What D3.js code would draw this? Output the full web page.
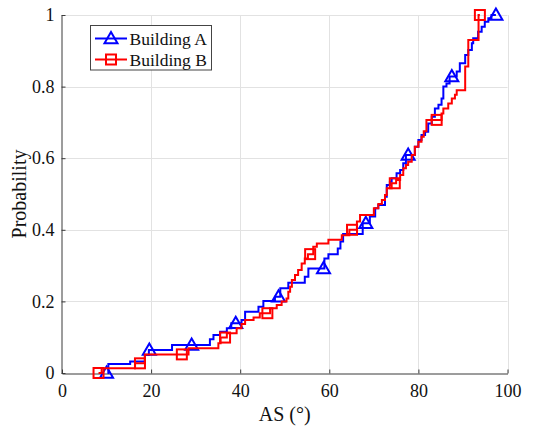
<!DOCTYPE html>
<html>
<head>
<meta charset="utf-8">
<script src="https://cdn.jsdelivr.net/npm/d3@7"></script>
<style>
  html, body { margin: 0; padding: 0; background: #fff; }
  svg { display: block; }
  svg text { font-family: "Liberation Serif", "DejaVu Serif", serif; }
</style>
</head>
<body>
<svg id="chart" width="541" height="429"></svg>
<script>
// Empirical CDF of AS for two buildings: step positions (AS, degrees) and
// cumulative probability reached at each step.
const stepAS_A = [10.2, 10.4, 15.3, 18.6, 19.5, 24.7, 33.2, 34.0, 35.5, 37.0, 38.0, 40.3, 41.1, 44.1, 45.2,
  47.8, 49.0, 50.8, 54.5, 55.3, 58.9, 59.8, 61.9, 62.5, 63.1, 67.5, 69.1, 70.3, 71.0, 72.5, 72.9,
  73.6, 74.0, 75.1, 75.9, 76.6, 77.2, 79.2, 80.0, 80.7, 81.5, 82.2, 83.0, 83.7, 84.5, 85.2, 85.6,
  86.3, 87.0, 88.6, 89.3, 90.5, 91.2, 92.0, 92.3, 93.4, 94.2, 94.9, 95.7, 96.4, 97.4];
const stepP_A = [0, 0.025, 0.032, 0.050, 0.064, 0.078, 0.094, 0.106, 0.115, 0.125, 0.139, 0.148, 0.171, 0.185, 0.201,
  0.213, 0.237, 0.252, 0.269, 0.292, 0.320, 0.332, 0.348, 0.367, 0.388, 0.418, 0.437, 0.460, 0.469, 0.492, 0.525,
  0.534, 0.544, 0.558, 0.567, 0.586, 0.609, 0.632, 0.651, 0.665, 0.674, 0.697, 0.716, 0.739, 0.749, 0.767, 0.800,
  0.809, 0.828, 0.842, 0.865, 0.888, 0.902, 0.921, 0.935, 0.953, 0.967, 0.981, 0.991, 1.0, 1.0];

const stepAS_B = [8.2, 8.9, 16.4, 18.6, 28.4, 35.1, 35.6, 37.0, 39.2, 40.3, 41.1, 43.0, 44.4, 46.7, 48.2,
  49.3, 50.4, 50.8, 51.2, 51.6, 52.3, 53.0, 53.8, 54.5, 55.2, 56.4, 57.2, 59.8, 62.8, 64.5, 66.2,
  66.9, 70.0, 71.0, 71.8, 72.5, 72.9, 74.0, 75.0, 75.9, 76.6, 77.2, 77.7, 78.5, 79.2, 80.0, 80.7,
  81.2, 81.8, 85.2, 85.6, 86.7, 87.5, 88.2, 88.6, 90.5, 91.2, 93.5, 93.8];
const stepP_B = [0, 0.013, 0.027, 0.052, 0.069, 0.083, 0.099, 0.111, 0.125, 0.137, 0.148, 0.155, 0.167, 0.181, 0.190,
  0.200, 0.208, 0.227, 0.241, 0.260, 0.274, 0.288, 0.306, 0.320, 0.332, 0.353, 0.362, 0.372, 0.385, 0.400, 0.423,
  0.441, 0.460, 0.472, 0.483, 0.497, 0.516, 0.530, 0.539, 0.553, 0.572, 0.581, 0.590, 0.609, 0.632, 0.646, 0.660,
  0.675, 0.707, 0.725, 0.739, 0.753, 0.767, 0.777, 0.790, 0.856, 0.930, 1.0, 1.0];

// AS values where the marker symbols are placed
const markerAS_A = [10.0, 19.6, 29.1, 39.0, 48.6, 58.7, 68.2, 77.7, 87.5, 97.4];
const markerAS_B = [8.2, 17.5, 26.9, 36.6, 46.1, 55.7, 65.1, 74.7, 84.1, 93.8];

const seriesNames = ["Building A", "Building B"];
const xTicks = [0, 20, 40, 60, 80, 100];
const yTicks = [0, 0.2, 0.4, 0.6, 0.8, 1];
const yTickLabels = ["0", "0.2", "0.4", "0.6", "0.8", "1"];

const serif = "'Liberation Serif', 'DejaVu Serif', serif";
const svg = d3.select("#chart");
const x = d3.scaleLinear().domain([0, 100]).range([62, 507.5]);
const y = d3.scaleLinear().domain([0, 1]).range([373, 15]);

// grid
const grid = svg.append("g").attr("stroke", "#e2e2e2").attr("stroke-width", 1);
grid.selectAll("line.gx").data(xTicks.slice(1)).join("line")
  .attr("x1", d => Math.round(x(d)) + 0.5).attr("x2", d => Math.round(x(d)) + 0.5)
  .attr("y1", y(0)).attr("y2", y(1));
grid.selectAll("line.gy").data(yTicks.slice(1)).join("line")
  .attr("y1", d => Math.round(y(d)) + 0.5).attr("y2", d => Math.round(y(d)) + 0.5)
  .attr("x1", x(0)).attr("x2", x(100));

// axes
const axisColor = "#3a3a3a";
const xAxis = svg.append("g").attr("transform", "translate(0,373.5)")
  .call(d3.axisBottom(x).tickValues(xTicks).tickFormat(d3.format("d"))
    .tickSizeInner(-4).tickSizeOuter(0).tickPadding(10.5));
const yAxis = svg.append("g").attr("transform", "translate(61.5,0)")
  .call(d3.axisLeft(y).tickValues(yTicks).tickFormat((d, i) => yTickLabels[i])
    .tickSizeInner(-4).tickSizeOuter(0).tickPadding(7));
[xAxis, yAxis].forEach(g => {
  g.attr("font-family", serif).attr("font-size", 18);
  g.select(".domain").attr("stroke", axisColor);
  g.selectAll(".tick line").attr("stroke", axisColor);
  g.selectAll(".tick text").attr("fill", "#111")
    .style("font-family", serif).style("font-size", "18px");
});

// axis titles
svg.append("text").attr("x", 284.75).attr("y", 421).attr("text-anchor", "middle")
  .style("font-family", serif).style("font-size", "20px").attr("fill", "#111").text("AS (°)");
svg.append("text").attr("transform", "translate(26,194) rotate(-90)").attr("text-anchor", "middle")
  .style("font-family", serif).style("font-size", "20px").attr("fill", "#111").text("Probability");

// step curves
const series = [
  { name: seriesNames[0], as: stepAS_A, p: stepP_A, markers: markerAS_A, color: "#0000ff", symbol: "tri" },
  { name: seriesNames[1], as: stepAS_B, p: stepP_B, markers: markerAS_B, color: "#ff0000", symbol: "sq" }
];
const line = d3.line().x(d => x(d[0])).y(d => y(d[1])).curve(d3.curveStepAfter);

function drawSymbol(g, kind, cx, cy, color) {
  if (kind === "tri") {
    const s = 6.5;
    g.append("path")
      .attr("d", `M${cx},${cy - s} L${cx + s},${cy + s * 0.72} L${cx - s},${cy + s * 0.72} Z`)
      .attr("fill", "none").attr("stroke", color).attr("stroke-width", 2);
  } else {
    const s = 5;
    g.append("rect").attr("x", cx - s).attr("y", cy - s).attr("width", 2 * s).attr("height", 2 * s)
      .attr("fill", "none").attr("stroke", color).attr("stroke-width", 2);
  }
}

series.forEach(s => {
  const pts = s.as.map((v, i) => [v, s.p[i]]);
  svg.append("path").datum(pts).attr("d", line)
    .attr("fill", "none").attr("stroke", s.color).attr("stroke-width", 2);
  const bis = d3.bisector(d => d[0]).right;
  const mg = svg.append("g");
  s.markers.forEach(m => {
    const i = bis(pts, m + 1e-9) - 1;
    const p = i >= 0 ? pts[i][1] : 0;
    drawSymbol(mg, s.symbol, x(m), y(p), s.color);
  });
});

// legend
const lg = svg.append("g");
lg.append("rect").attr("x", 90.5).attr("y", 25.5).attr("width", 121).attr("height", 44.5)
  .attr("fill", "#fff").attr("stroke", "#444").attr("stroke-width", 1);
series.forEach((s, i) => {
  const cy = 38.5 + i * 21;
  lg.append("line").attr("x1", 95).attr("x2", 127).attr("y1", cy).attr("y2", cy)
    .attr("stroke", s.color).attr("stroke-width", 2);
  drawSymbol(lg, s.symbol, 111, cy, s.color);
  lg.append("text").attr("x", 129.5).attr("y", cy + 6)
    .style("font-family", serif).style("font-size", "17.5px")
    .attr("fill", "#111").text(s.name);
});
</script>
</body>
</html>
